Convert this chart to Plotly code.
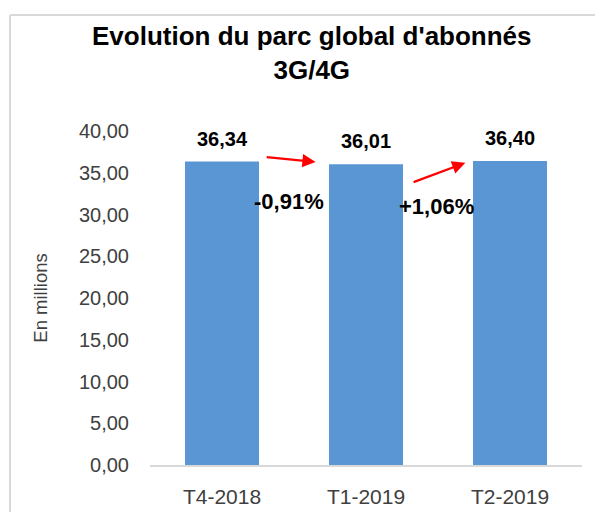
import plotly.graph_objects as go

categories = ["T4-2018", "T1-2019", "T2-2019"]
values = [36.34, 36.01, 36.40]
change_labels = ["-0,91%", "+1,06%"]
y_ticks = [0, 5, 10, 15, 20, 25, 30, 35, 40]

FONT = "Liberation Sans Narrow, Arial Narrow, Liberation Sans, Arial, sans-serif"

# plot area in figure pixels (page body adds an 8px offset)
L, T, PW, PH = 142, 123, 432, 334


def px_x(sx):  # screen x -> paper x
    return (sx - 8 - L) / PW


def px_y(sy):  # screen y -> paper y
    return 1 - (sy - 8 - T) / PH


fig = go.Figure()
fig.add_trace(go.Bar(
    x=list(range(len(categories))),
    y=values,
    marker=dict(color="#5a96d4", line=dict(width=0)),
    width=0.514,
    hoverinfo="skip",
))

annotations = []
for i, v in enumerate(values):
    annotations.append(dict(
        x=i, y=v, xref="x", yref="y",
        text=f"{v:.2f}".replace(".", ","),
        showarrow=False, yanchor="bottom", yshift=10,
        font=dict(family=FONT, size=20, color="#000000", weight="bold"),
    ))

# change arrows between consecutive bars
arrow_specs = [
    ((0.30, values[0] + 0.55), (0.65, values[0] - 0.05)),
    ((1.32, values[1] - 2.2), (1.69, values[2] - 0.2)),
]
for (tx, ty), (hx, hy) in arrow_specs:
    annotations.append(dict(
        x=hx, y=hy, ax=tx, ay=ty, xref="x", yref="y", axref="x", ayref="y",
        text="", showarrow=True, arrowhead=2, arrowsize=1.2, arrowwidth=2.2,
        arrowcolor="#ff0000", standoff=0, startstandoff=0,
    ))

label_pos = [(0.465, 31.6), (1.493, 31.0)]
for (lx, ly), t in zip(label_pos, change_labels):
    annotations.append(dict(
        x=lx, y=ly, xref="x", yref="y", text=t, showarrow=False,
        xanchor="center", yanchor="middle",
        font=dict(family=FONT, size=22, color="#000000", weight="bold"),
    ))

annotations.append(dict(
    x=px_x(312), y=px_y(53), xref="paper", yref="paper",
    xanchor="center", yanchor="middle",
    text="Evolution du parc global d'abonnés<br>3G/4G", showarrow=False,
    font=dict(family=FONT, size=26, color="#000000", weight="bold"),
    align="center",
))

fig.update_layout(
    width=603, height=512,
    margin=dict(l=L, r=603 - L - PW, t=T, b=512 - T - PH, pad=0),
    paper_bgcolor="white", plot_bgcolor="white",
    separators=", ",
    showlegend=False,
    bargap=0.486,
    annotations=annotations,
    font=dict(family=FONT, color="#404040"),
    shapes=[
        dict(type="line", xref="paper", yref="paper",
             x0=px_x(10), x1=px_x(10), y0=-0.3, y1=px_y(15),
             line=dict(color="#d9d9d9", width=2)),
        dict(type="line", xref="paper", yref="paper",
             x0=px_x(10), x1=1.3, y0=px_y(15), y1=px_y(15),
             line=dict(color="#d9d9d9", width=2)),
    ],
)
fig.update_xaxes(
    tickmode="array", tickvals=list(range(len(categories))), ticktext=categories,
    range=[-0.5, 2.5], showline=True, linecolor="#d9d9d9", linewidth=1.5,
    showgrid=False, zeroline=False, ticks="", ticklabelstandoff=12,
    tickfont=dict(family=FONT, size=21, color="#404040"),
)
fig.update_yaxes(
    range=[0, 40], tickmode="array", tickvals=y_ticks, tickformat=".2f",
    showgrid=False, zeroline=False, showline=False, ticks="",
    ticklabelstandoff=20,
    tickfont=dict(family=FONT, size=20, color="#404040"),
    title=dict(text="En millions", standoff=26,
               font=dict(family=FONT, size=18.5, color="#404040")),
)

fig.write_html("out.html")
